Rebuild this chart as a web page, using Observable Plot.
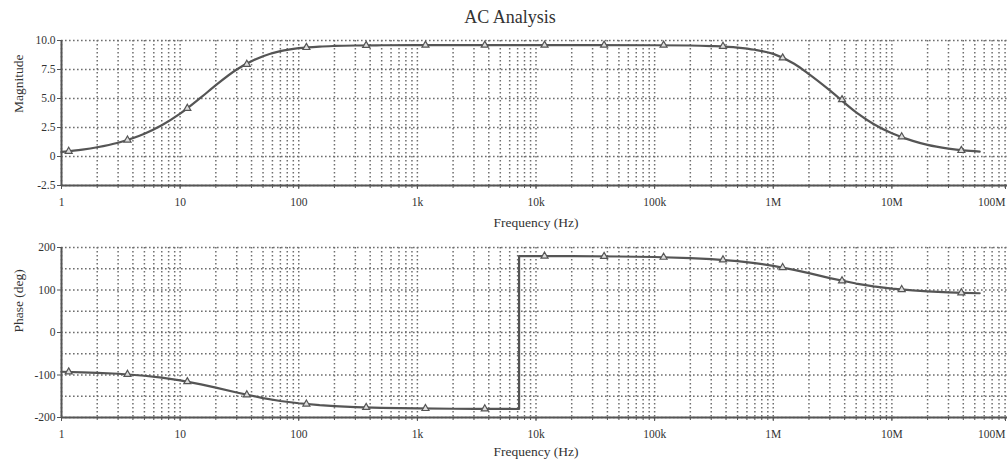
<!DOCTYPE html>
<html>
<head>
<meta charset="utf-8">
<script src="https://cdn.jsdelivr.net/npm/d3@7"></script>
<script src="https://cdn.jsdelivr.net/npm/@observablehq/plot@0.6"></script>
<style>
  html, body { margin: 0; padding: 0; background: #fff; overflow: hidden; width: 1007px; height: 460px; }
  #wrap { position: relative; width: 1007px; height: 460px; overflow: hidden; }
  #title { position: absolute; left: 0; top: 7px; width: 1020px; text-align: center;
           font-family: "Liberation Serif", serif; font-size: 18px; color: #333; }
  #topPanel { position: absolute; left: 0; top: 28px; width: 1020px; }
  #bottomPanel { position: absolute; left: 0; top: 232px; width: 1020px; }
  svg { overflow: visible; max-width: none !important; }
</style>
</head>
<body>
<div id="wrap">
  <div id="title">AC Analysis</div>
  <div id="topPanel"></div>
  <div id="bottomPanel"></div>
</div>
<script>
// ---- data ----
const magFreq = [1, 1.5, 2, 3, 5, 7, 10, 15, 20, 30, 50, 70, 100, 150, 200, 300, 500, 1e3, 1e4, 1e5, 2e5, 3e5, 5e5, 7e5, 1e6, 1.5e6, 2e6, 3e6, 5e6, 7e6, 1e7, 1.5e7, 2e7, 3e7, 4e7, 5.5e7];
const magValues = [0.40, 0.60, 0.80, 1.19, 1.96, 2.69, 3.69, 5.09, 6.15, 7.50, 8.65, 9.08, 9.34, 9.48, 9.53, 9.57, 9.59, 9.60, 9.60, 9.59, 9.57, 9.52, 9.39, 9.20, 8.85, 8.00, 7.10, 5.70, 3.80, 2.80, 2.00, 1.35, 1.00, 0.68, 0.52, 0.42];

const phaseFreq = [1, 1.5, 2, 3, 5, 7, 10, 15, 20, 30, 50, 70, 100, 150, 200, 300, 500, 1e3, 2e3, 3e3, 5e3, 7.2e3, 7.2e3, 1e4, 2e4, 5e4, 1e5, 2e5, 3e5, 5e5, 7e5, 1e6, 1.5e6, 2e6, 3e6, 5e6, 7e6, 1e7, 1.5e7, 2e7, 3e7, 4e7, 5.5e7];
const phaseValues = [-92.4, -93.6, -94.8, -97.1, -101.8, -106.3, -112.6, -122.0, -129.8, -141.3, -154.4, -161.1, -166.5, -170.9, -173.2, -175.4, -177.3, -178.6, -179.4, -179.6, -179.8, -180, 180, 179.9, 179.6, 178.8, 177.6, 175.1, 172.7, 168.0, 163.4, 156.9, 147.4, 139.6, 128.1, 115.2, 108.6, 103.2, 98.9, 96.7, 94.5, 93.4, 92.4];

const markerFreq = [1.15, 3.6, 11.5, 36.5, 116, 370, 1170, 3700, 11800, 37500, 119000, 377000, 1.2e6, 3.8e6, 1.21e7, 3.85e7];
const markerMag = [0.45, 1.42, 4.15, 7.95, 9.40, 9.58, 9.60, 9.60, 9.60, 9.60, 9.60, 9.50, 8.50, 4.90, 1.70, 0.52];
const markerPhase = [-92.7, -98.5, -115.6, -146.7, -168.3, -176.3, -178.8, -179.6, 179.8, 179.0, 177.1, 170.9, 152.9, 121.7, 101.1, 93.5];

const xTickValues = [1, 10, 100, 1e3, 1e4, 1e5, 1e6, 1e7, 1e8];
const xTickLabels = ["1", "10", "100", "1k", "10k", "100k", "1M", "10M", "100M"];
const magTicks = [-2.5, 0, 2.5, 5, 7.5, 10];
const magTickLabels = ["-2.5", "0", "2.5", "5.0", "7.5", "10.0"];
const phaseTicks = [-200, -100, 0, 100, 200];
const phaseGrid = [-200, -150, -100, -50, 0, 50, 100, 150, 200];
const xAxisTitle = "Frequency (Hz)";

// ---- styling ----
const ink = "#555";
const gridColor = "#6e6e6e";
const textColor = "#333";
const fontFamily = "Liberation Serif, serif";
const W = 1020;
const xLabelOf = new Map(xTickValues.map((v, i) => [v, xTickLabels[i]]));
const magLabelOf = new Map(magTicks.map((v, i) => [v, magTickLabels[i]]));
const lastTick = xTickValues[xTickValues.length - 1];
const innerTicks = xTickValues.slice(0, -1);
// minor log grid positions (1..9 per decade)
const minorX = d3.range(0, 8).flatMap(e => d3.range(1, 10).map(m => m * Math.pow(10, e))).concat([1e8]);

function panel({yDomain, yGrid, yTicks, yFormat, yLabel, lineX, lineY, curve, mX, mY, height, marginTop, marginBottom, xTitleDy}) {
  return Plot.plot({
    width: W,
    height,
    marginLeft: 61,
    marginRight: 10,
    marginTop,
    marginBottom,
    style: {fontFamily, fontSize: "11.5px", color: textColor, background: "transparent", maxWidth: "none"},
    x: {type: "log", domain: [1, 1e8]},
    y: {domain: yDomain},
    marks: [
      Plot.ruleX(minorX, {stroke: gridColor, strokeWidth: 1.5, strokeDasharray: "1.6,2.4"}),
      Plot.ruleY(yGrid, {stroke: gridColor, strokeWidth: 1.5, strokeDasharray: "1.6,2.4"}),
      Plot.axisX({ticks: minorX, tickSize: 3, tickFormat: () => "", stroke: ink, label: null}),
      Plot.axisX({ticks: innerTicks, tickSize: 4, tickPadding: 8, tickFormat: d => xLabelOf.get(d), stroke: ink, label: null}),
      Plot.axisX({ticks: [lastTick], tickSize: 4, tickPadding: 8, tickFormat: d => xLabelOf.get(d), textAnchor: "end", dx: -5, stroke: ink, label: null}),
      Plot.axisY({ticks: yTicks, tickSize: 4, tickPadding: 2, tickFormat: yFormat, stroke: ink, label: null}),
      Plot.text([xAxisTitle], {frameAnchor: "bottom", dy: xTitleDy, fontSize: 13.5, fill: textColor}),
      Plot.text([yLabel], {frameAnchor: "left", rotate: -90, dx: -43, fontSize: 13.5, fill: textColor}),
      Plot.ruleX([1], {stroke: ink, strokeWidth: 2}),
      Plot.ruleY([yDomain[0]], {stroke: ink, strokeWidth: 2}),
      Plot.line(lineX.map((f, i) => ({f, v: lineY[i]})), {x: "f", y: "v", stroke: ink, strokeWidth: 2.2, curve}),
      Plot.dot(mX.map((f, i) => ({f, v: mY[i]})), {x: "f", y: "v", symbol: "triangle", r: 2.6, stroke: ink, strokeWidth: 1.2, fill: "#ddd"})
    ]
  });
}

const magPlot = panel({
  yDomain: [-2.5, 10], yGrid: magTicks, yTicks: magTicks, yFormat: d => magLabelOf.get(d), yLabel: "Magnitude",
  lineX: magFreq, lineY: magValues, curve: "monotone-x", mX: markerFreq, mY: markerMag,
  height: 204, marginTop: 12, marginBottom: 47, xTitleDy: 41
});
const phasePlot = panel({
  yDomain: [-200, 200], yGrid: phaseGrid, yTicks: phaseTicks, yFormat: d => String(d), yLabel: "Phase (deg)",
  lineX: phaseFreq, lineY: phaseValues, curve: "linear", mX: markerFreq, mY: markerPhase,
  height: 228, marginTop: 15, marginBottom: 43, xTitleDy: 38
});
document.getElementById("topPanel").appendChild(magPlot);
document.getElementById("bottomPanel").appendChild(phasePlot);
</script>
</body>
</html>
